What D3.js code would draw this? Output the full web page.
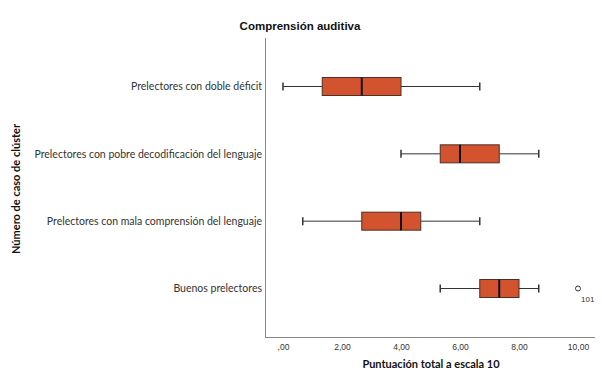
<!DOCTYPE html>
<html>
<head>
<meta charset="utf-8">
<script src="https://cdn.jsdelivr.net/npm/d3@7"></script>
<style>
  body { margin: 0; background: #fff; }
  svg { display: block; }
</style>
</head>
<body>
<svg class="chart"></svg>
<script>
// cluster groups (top to bottom)
const groups = [
  "Prelectores con doble déficit",
  "Prelectores con pobre decodificación del lenguaje",
  "Prelectores con mala comprensión del lenguaje",
  "Buenos prelectores"
];
// five-number summaries
const whiskerLow  = [0.00, 4.00, 0.67, 5.33];
const q1          = [1.33, 5.33, 2.67, 6.67];
const medians     = [2.67, 6.00, 4.00, 7.33];
const q3          = [4.00, 7.33, 4.67, 8.00];
const whiskerHigh = [6.67, 8.67, 6.67, 8.67];
// outliers: [group index, value, case label]
const outliers = [[3, 10.0, "101"]];
const xTicks = [0, 2, 4, 6, 8, 10];

const width = 602, height = 383;
const plot = {left: 265, right: 595, top: 38, bottom: 337};
const boxH = 18;

const svg = d3.select(".chart")
  .attr("width", width)
  .attr("height", height);

const x = d3.scaleLinear().domain([0, 10]).range([283, 578]);
const y = d3.scalePoint().domain(groups).range([plot.top, plot.bottom]).padding(0.72);

const fmt = v => d3.format(".2f")(v).replace(".", ",").replace(/^0,/, ",");

// title
svg.append("text")
  .attr("x", 300).attr("y", 30)
  .attr("text-anchor", "middle")
  .style("font-family", "Liberation Sans, Arial, sans-serif")
  .style("font-size", "11.5px")
  .style("font-weight", "bold")
  .style("fill", "#111")
  .text("Comprensión auditiva");

// axis frame lines
svg.append("line")
  .attr("x1", plot.left + 0.5).attr("x2", plot.left + 0.5)
  .attr("y1", plot.top).attr("y2", plot.bottom)
  .style("stroke", "#888");
svg.append("line")
  .attr("x1", plot.left).attr("x2", plot.right)
  .attr("y1", plot.bottom + 0.5).attr("y2", plot.bottom + 0.5)
  .style("stroke", "#888");

// x axis labels (no ticks)
const xAxis = svg.append("g")
  .attr("transform", `translate(0,${plot.bottom})`)
  .call(d3.axisBottom(x).tickValues(xTicks).tickFormat(fmt).tickSize(0).tickPadding(7));
xAxis.select(".domain").remove();
xAxis.selectAll("text")
  .style("font-family", "Liberation Sans, Arial, sans-serif")
  .style("font-size", "8.5px")
  .style("fill", "#333");

// y axis labels
const yAxis = svg.append("g")
  .attr("transform", `translate(${plot.left},0)`)
  .call(d3.axisLeft(y).tickSize(0).tickPadding(3));
yAxis.select(".domain").remove();
yAxis.selectAll("text")
  .style("font-family", "Lato, sans-serif")
  .style("font-size", "10.5px")
  .style("fill", "#333");

// axis titles
svg.append("text")
  .attr("x", 431).attr("y", 368)
  .attr("text-anchor", "middle")
  .style("font-family", "Lato, sans-serif")
  .style("font-size", "11px")
  .style("font-weight", "bold")
  .style("fill", "#111")
  .text("Puntuación total a escala 10");

svg.append("text")
  .attr("transform", "rotate(-90)")
  .attr("x", -189).attr("y", 20)
  .attr("text-anchor", "middle")
  .style("font-family", "Lato, sans-serif")
  .style("font-size", "11px")
  .style("font-weight", "bold")
  .style("fill", "#111")
  .text("Número de caso de clúster");

// boxes
const boxes = svg.selectAll(".box")
  .data(groups.map((g, i) => ({g, lo: whiskerLow[i], q1: q1[i], med: medians[i], q3: q3[i], hi: whiskerHigh[i]})))
  .enter().append("g")
  .attr("class", "box");

boxes.append("line")
  .attr("x1", d => x(d.lo)).attr("x2", d => x(d.q1))
  .attr("y1", d => y(d.g)).attr("y2", d => y(d.g))
  .style("stroke", "#333");
boxes.append("line")
  .attr("x1", d => x(d.q3)).attr("x2", d => x(d.hi))
  .attr("y1", d => y(d.g)).attr("y2", d => y(d.g))
  .style("stroke", "#333");
boxes.append("line")
  .attr("x1", d => x(d.lo)).attr("x2", d => x(d.lo))
  .attr("y1", d => y(d.g) - 4).attr("y2", d => y(d.g) + 4)
  .style("stroke", "#333").style("stroke-width", 1.5);
boxes.append("line")
  .attr("x1", d => x(d.hi)).attr("x2", d => x(d.hi))
  .attr("y1", d => y(d.g) - 4).attr("y2", d => y(d.g) + 4)
  .style("stroke", "#333").style("stroke-width", 1.5);
boxes.append("rect")
  .attr("x", d => x(d.q1)).attr("width", d => x(d.q3) - x(d.q1))
  .attr("y", d => y(d.g) - boxH / 2).attr("height", boxH)
  .style("fill", "#d4532f")
  .style("stroke", "#4a3028")
  .style("stroke-width", 1);
boxes.append("line")
  .attr("x1", d => x(d.med)).attr("x2", d => x(d.med))
  .attr("y1", d => y(d.g) - boxH / 2).attr("y2", d => y(d.g) + boxH / 2)
  .style("stroke", "#111").style("stroke-width", 2);

// outliers
svg.selectAll(".outlier")
  .data(outliers)
  .enter().append("circle")
  .attr("class", "outlier")
  .attr("cx", d => x(d[1]))
  .attr("cy", d => y(groups[d[0]]))
  .attr("r", 2.5)
  .style("fill", "none")
  .style("stroke", "#333");

svg.selectAll(".outlier-label")
  .data(outliers)
  .enter().append("text")
  .attr("class", "outlier-label")
  .attr("x", d => x(d[1]) + 3)
  .attr("y", d => y(groups[d[0]]) + 13)
  .style("font-family", "Liberation Sans, Arial, sans-serif")
  .style("font-size", "8px")
  .style("fill", "#333")
  .text(d => d[2]);
</script>
</body>
</html>
